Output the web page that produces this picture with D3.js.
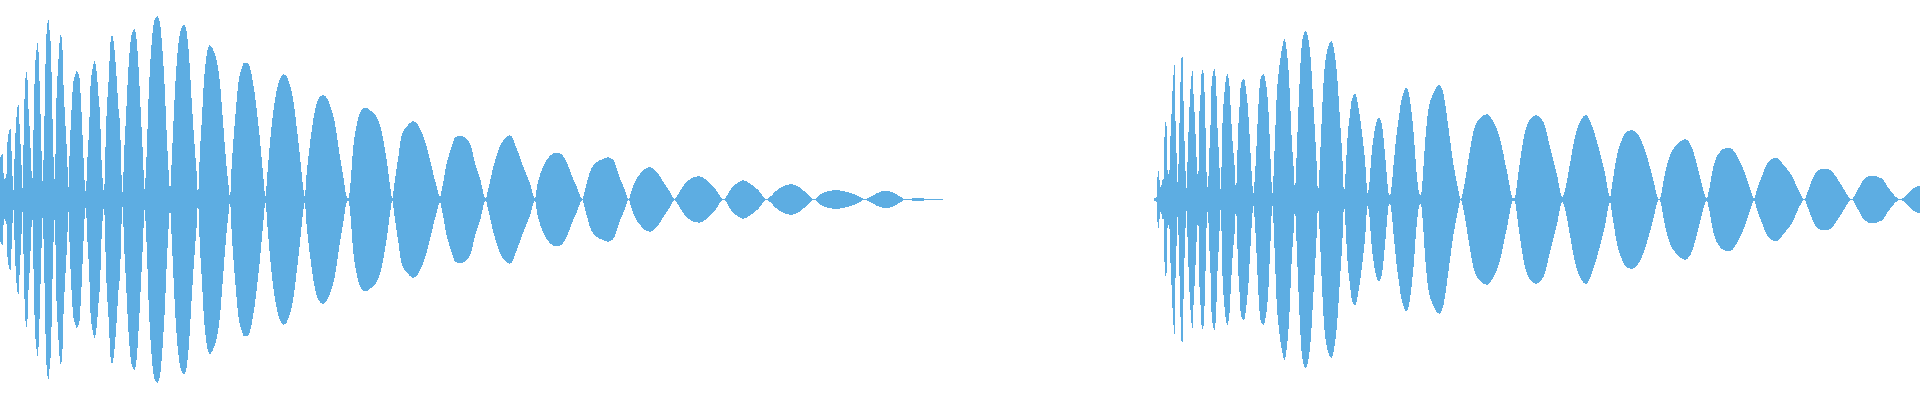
<!DOCTYPE html>
<html>
<head>
<meta charset="utf-8">
<title>Waveform</title>
<script src="https://cdn.jsdelivr.net/npm/d3@7"></script>
<style>
  html, body { margin: 0; padding: 0; background: #fff; overflow: hidden; }
  svg { display: block; }
</style>
</head>
<body>
<svg id="wave" width="1920" height="400"></svg>
<script>
// Peak envelope of two clips. Times and amplitudes are in
// the same arbitrary units; the negative half of the waveform mirrors the positive one.

// ── First clip ──
const firstTimes = [
  0, 8, 12, 16, 18,
  22, 31, 37, 40,
  45, 50, 55, 60, 65, 68,
  72, 75, 78, 81, 85, 90, 95, 97,
  100, 105, 110, 112, 115, 120, 125, 127,
  130, 133, 138, 142, 145, 148, 153, 158, 162, 165,
  168, 172, 176, 181, 186, 190, 195, 200, 204, 207,
  208, 213, 220, 225, 230, 238, 243, 248, 252, 256,
  260, 263, 267, 272, 280, 283, 290, 295, 300, 305, 308, 312,
  314, 318, 322, 326, 332, 337, 343, 350, 355, 360, 365, 368,
  372, 378, 385, 392, 398, 403, 410, 416, 423, 430, 433,
  440, 446, 452, 458, 465, 472, 480, 488, 494, 500, 505, 510,
  517, 525, 532, 540, 546, 552, 560, 568, 575, 583, 590, 594,
  600, 606, 612, 618, 625, 630, 640, 650, 660, 668, 678, 686, 690,
  695, 705, 715, 725, 733, 745, 755, 768, 780, 790, 796,
  803, 815, 825, 838, 852, 865, 878, 890, 900, 910, 914,
  920, 930, 945, 960, 970, 990, 1005, 1020, 1030, 1040, 1046,
  1050, 1060, 1070, 1085, 1098, 1110, 1130, 1145, 1160, 1170, 1177,
  1182, 1195, 1205, 1220, 1240, 1260, 1280, 1295, 1310, 1320,
  1325, 1340, 1355, 1365, 1380, 1410, 1425, 1440, 1457,
  1463, 1480, 1495, 1510, 1530, 1550, 1570, 1590, 1605,
  1610, 1625, 1640, 1660, 1675, 1695, 1715, 1730, 1747,
  1755, 1770, 1785, 1805, 1825, 1840, 1860, 1875, 1886,
  1895, 1905, 1920, 1930, 1950, 1970, 1990, 2010, 2024,
  2030, 2045, 2065, 2098, 2120, 2145, 2170,
  2175, 2190, 2210, 2230, 2250, 2275, 2300,
  2305, 2325, 2350, 2373, 2400, 2420, 2442,
  2447, 2465, 2490, 2510, 2540, 2570, 2595,
  2600, 2620, 2640, 2660, 2685, 2710, 2720,
  2725, 2735, 2755, 2780, 2790, 2829
];
const firstAmps = [
  123, 138, 53, 73, 33,
  168, 213, 83, 26,
  168, 255, 286, 195, 95, 33,
  248, 336, 380, 385, 283, 193, 76, 53,
  183, 393, 451, 470, 451, 308, 128, 53,
  98, 223, 463, 526, 541, 513, 443, 223, 88, 53,
  248, 358, 428, 493, 483, 358, 248, 158, 65, 26,
  103, 236, 353, 373, 385, 368, 293, 183, 93, 23,
  63, 138, 203, 348, 403, 415, 383, 318, 253, 108, 58, 20,
  58, 213, 298, 358, 478, 493, 453, 363, 278, 223, 63, 20,
  128, 248, 388, 478, 505, 511, 478, 388, 248, 103, 30,
  138, 313, 428, 503, 543, 550, 528, 438, 338, 198, 98, 30,
  158, 328, 433, 498, 518, 526, 503, 418, 298, 173, 78, 13,
  148, 248, 358, 418, 458, 463, 448, 418, 348, 248, 118, 38, 8,
  98, 238, 348, 393, 411, 408, 373, 288, 178, 68, 8,
  88, 223, 298, 358, 376, 358, 308, 218, 128, 33, 8,
  78, 168, 268, 308, 313, 283, 228, 128, 68, 8, 3,
  33, 158, 223, 268, 276, 268, 248, 203, 118, 43, 3,
  38, 128, 193, 218, 235, 213, 158, 98, 38, 8,
  28, 108, 158, 186, 192, 168, 108, 63, 3,
  23, 98, 148, 178, 193, 153, 98, 48, 3,
  33, 88, 118, 138, 140, 123, 73, 38, 2,
  28, 83, 108, 120, 127, 118, 63, 28, 1,
  28, 53, 76, 88, 97, 83, 53, 23, 1,
  8, 33, 58, 70, 58, 33, 1,
  3, 28, 48, 58, 48, 28, 1,
  3, 23, 40, 46, 36, 18, 1,
  3, 18, 26, 28, 23, 13, 1,
  3, 13, 23, 26, 18, 3, 1,
  1.5, 3, 5, 2, 1, 1
];

// ── Second clip ──
const secondTimes = [
  3462, 3470, 3474, 3480, 3483, 3487, 3490, 3492, 3495, 3500, 3503, 3508,
  3510, 3513, 3516, 3520, 3523, 3526, 3530, 3533,
  3538, 3542, 3545, 3548, 3550, 3555, 3560,
  3563, 3570, 3574, 3577, 3581, 3585, 3590, 3595,
  3597, 3601, 3606, 3610, 3615, 3620, 3624,
  3627, 3631, 3635, 3640, 3643, 3648, 3653, 3658, 3661,
  3664, 3668, 3672, 3676, 3682, 3688, 3693, 3698, 3704, 3708,
  3710, 3714, 3718, 3723, 3732, 3738, 3745, 3750, 3756, 3760,
  3764, 3770, 3775, 3782, 3790, 3798, 3805, 3812, 3817,
  3820, 3825, 3830, 3838, 3846, 3853, 3860, 3868, 3875, 3882, 3885,
  3888, 3895, 3903, 3910, 3917, 3925, 3932, 3940, 3950, 3954,
  3958, 3965, 3972, 3980, 3988, 3995, 4003, 4012, 4020, 4028, 4032,
  4036, 4042, 4050, 4055, 4065, 4075, 4085, 4095, 4103,
  4107, 4115, 4125, 4136, 4145, 4153, 4160, 4166,
  4170, 4182, 4190, 4198, 4200, 4210, 4220, 4230, 4240, 4250, 4258, 4263,
  4267, 4275, 4285, 4300, 4318, 4330, 4345, 4360, 4375, 4382,
  4390, 4405, 4420, 4435, 4460, 4480, 4500, 4520, 4540,
  4545, 4555, 4570, 4585, 4608, 4630, 4650, 4670, 4687,
  4695, 4710, 4725, 4740, 4758, 4775, 4795, 4815, 4830,
  4837, 4850, 4865, 4880, 4895, 4915, 4935, 4955, 4978,
  4995, 5010, 5030, 5055, 5075, 5095, 5110, 5120,
  5127, 5140, 5160, 5175, 5190, 5215, 5235, 5250, 5263,
  5270, 5285, 5305, 5328, 5355, 5375, 5395, 5413,
  5425, 5440, 5460, 5485, 5505, 5530, 5555,
  5570, 5590, 5615, 5645, 5670, 5700,
  5725, 5740, 5760
];
const secondAmps = [
  3, 8, 91, 46, 33, 61, 53, 108, 233, 220, 78, 76,
  158, 213, 298, 363, 415, 258, 128, 48,
  208, 368, 428, 428, 323, 128, 33,
  128, 308, 363, 388, 308, 233, 118, 58,
  218, 303, 390, 383, 278, 73, 33,
  123, 203, 348, 383, 393, 348, 203, 113, 28,
  78, 243, 303, 348, 376, 348, 253, 168, 98, 28,
  58, 198, 268, 348, 363, 328, 258, 168, 63, 18,
  58, 168, 278, 363, 376, 348, 273, 113, 18,
  58, 183, 308, 398, 453, 481, 448, 348, 183, 78, 23,
  88, 263, 433, 493, 505, 483, 423, 288, 108, 23,
  78, 238, 373, 438, 468, 475, 443, 363, 238, 108, 18,
  68, 178, 258, 298, 318, 278, 208, 118, 18,
  38, 138, 213, 246, 228, 158, 78, 16,
  13, 118, 198, 256, 273, 318, 336, 298, 208, 78, 18, 13,
  48, 168, 268, 318, 343, 318, 218, 108, 28, 1,
  28, 118, 203, 238, 256, 233, 183, 88, 3,
  8, 78, 178, 233, 253, 233, 158, 78, 8,
  28, 108, 188, 233, 253, 223, 158, 78, 8,
  48, 128, 178, 203, 208, 193, 148, 78, 1,
  78, 133, 163, 181, 158, 88, 28, 3,
  28, 98, 143, 153, 155, 123, 78, 33, 3,
  28, 68, 113, 125, 98, 73, 28, 1,
  28, 68, 90, 91, 73, 33, 1,
  23, 58, 72, 63, 28, 1,
  18, 33, 42
];

const width = 1920;
const height = 400;
const waveColor = '#5dade2';

const svg = d3.select('#wave');

const x = d3.scaleLinear().domain([0, 5760]).range([0, width]);
const y = d3.scaleLinear().domain([-600, 600]).range([height - 0.5, -0.5]);

// Mirrored area around the centre line
const area = d3.area()
    .curve(d3.curveMonotoneX)
    .x(d => x(d[0]))
    .y0(d => y(-d[1]))
    .y1(d => y(d[1]));

svg.selectAll('path.clip')
    .data([d3.zip(firstTimes, firstAmps), d3.zip(secondTimes, secondAmps)])
    .enter().append('path')
    .attr('class', 'clip')
    .attr('d', area)
    .attr('fill', waveColor)
    .attr('shape-rendering', 'crispEdges');
</script>
</body>
</html>
